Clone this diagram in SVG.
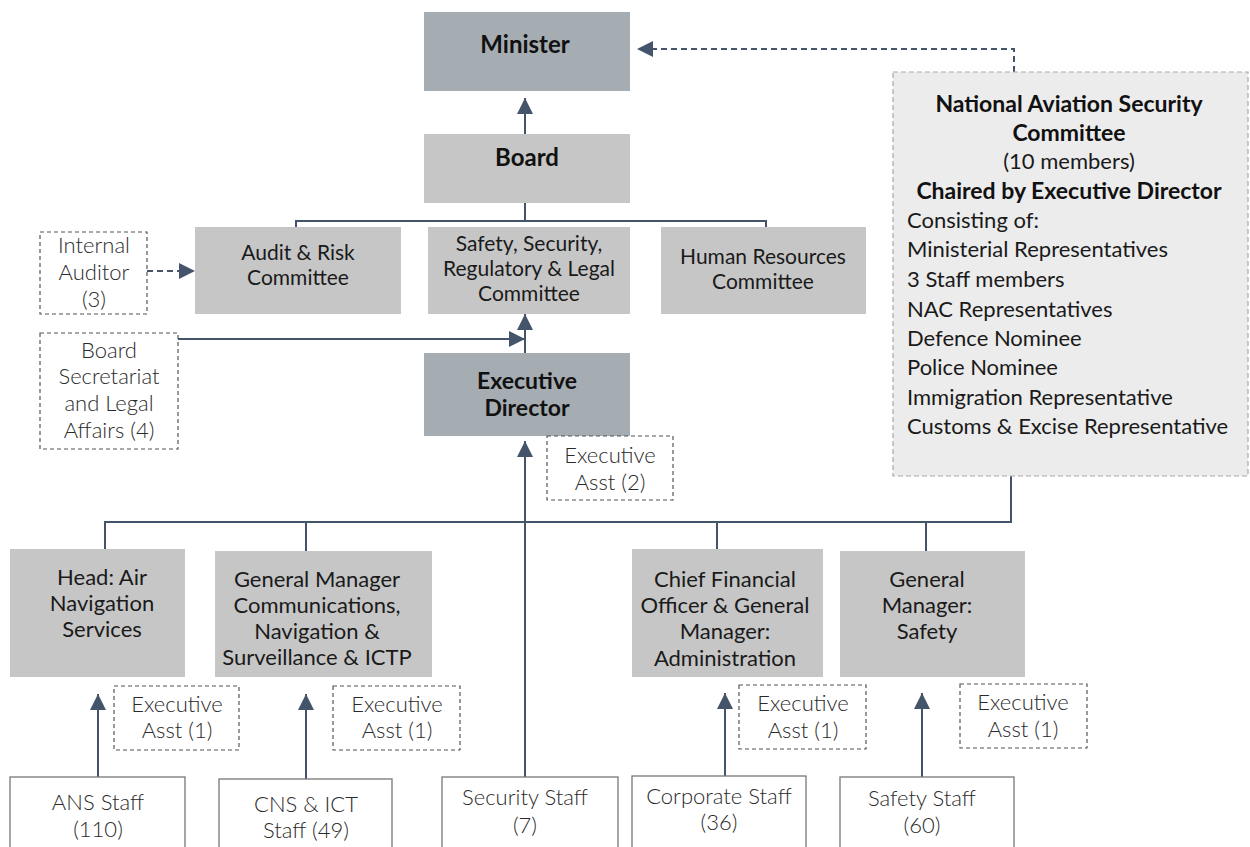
<svg xmlns="http://www.w3.org/2000/svg" width="1250" height="847" viewBox="0 0 1250 847">
  <style>
    .dark { fill: #a5acb2; }
    .mid { fill: #c6c6c6; }
    .dash { fill: #ffffff; stroke: #555; stroke-width: 1.2; stroke-dasharray: 4 3; }
    .staff { fill: #ffffff; stroke: #777; stroke-width: 1.3; }
    .nasc { fill: #ececec; stroke: #aaa; stroke-width: 1.2; stroke-dasharray: 5 3; }
    text { font-family: Lato, "Liberation Sans", sans-serif; font-size: 22px; text-anchor: middle; fill: #1a1a1a; }
    .b { font-weight: 700; fill: #111; font-size: 23px; }
    .big { font-size: 24px; }
    .cm { font-size: 21px; }
    .lt { font-weight: 300; fill: #2a2a2a; }
    .left { text-anchor: start; }
    .wire { fill: none; stroke: #44546a; stroke-width: 2; }
    .wire-d { fill: none; stroke: #44546a; stroke-width: 2; stroke-dasharray: 6 4; }
  </style>
  <defs>
    <marker id="arrow" viewBox="0 0 16 16" refX="16" refY="8" markerWidth="16" markerHeight="16" markerUnits="userSpaceOnUse" orient="auto">
      <path d="M0,0 L16,8 L0,16 Z" fill="#44546a"/>
    </marker>
  </defs>

  <rect width="1250" height="847" fill="#ffffff"/>

  <!-- connectors -->
  <g id="connectors">
    <line class="wire" x1="525" y1="134" x2="525" y2="98" marker-end="url(#arrow)"/>
    <path class="wire" d="M525,203 V221 M296,221 H766 M296,220 V228 M766,220 V228"/>
    <line class="wire-d" x1="147" y1="271" x2="195" y2="271" marker-end="url(#arrow)"/>
    <line class="wire" x1="178" y1="339" x2="525" y2="339" marker-end="url(#arrow)"/>
    <line class="wire" x1="525" y1="353" x2="525" y2="314" marker-end="url(#arrow)"/>
    <line class="wire" x1="525" y1="777" x2="525" y2="441" marker-end="url(#arrow)"/>
    <path class="wire-d" d="M1014,72 V49 H637" marker-end="url(#arrow)"/>
    <path class="wire" d="M1011,476 V522 H105 V549 M306,522 V551 M717,522 V549 M926,522 V551"/>
    <line class="wire" x1="98" y1="777" x2="98" y2="694" marker-end="url(#arrow)"/>
    <line class="wire" x1="306" y1="779" x2="306" y2="694" marker-end="url(#arrow)"/>
    <line class="wire" x1="725" y1="776" x2="725" y2="693" marker-end="url(#arrow)"/>
    <line class="wire" x1="922" y1="777" x2="922" y2="693" marker-end="url(#arrow)"/>
  </g>

  <!-- top level -->
  <g id="minister">
    <rect class="dark" x="424" y="12" width="206" height="79"/>
    <text class="b big" x="525" y="53">Minister</text>
  </g>
  <g id="board">
    <rect class="mid" x="424" y="134" width="206" height="69"/>
    <text class="b big" x="527" y="166">Board</text>
  </g>

  <!-- board committees -->
  <g id="audit-risk">
    <rect class="mid" x="195" y="227" width="206" height="87"/>
    <text class="cm" x="298" y="260">Audit &amp; Risk</text>
    <text class="cm" x="298" y="285">Committee</text>
  </g>
  <g id="ssrl">
    <rect class="mid" x="428" y="227" width="202" height="87"/>
    <text class="cm" x="529" y="251">Safety, Security,</text>
    <text class="cm" x="529" y="276">Regulatory &amp; Legal</text>
    <text class="cm" x="529" y="301">Committee</text>
  </g>
  <g id="hr">
    <rect class="mid" x="661" y="227" width="205" height="87"/>
    <text class="cm" x="763" y="264">Human Resources</text>
    <text class="cm" x="763" y="289">Committee</text>
  </g>
  <g id="internal-auditor">
    <rect class="dash" x="40" y="232" width="107" height="82"/>
    <text class="lt" x="94" y="253">Internal</text>
    <text class="lt" x="94" y="280">Auditor</text>
    <text class="lt" x="94" y="307">(3)</text>
  </g>
  <g id="board-secretariat">
    <rect class="dash" x="40" y="333" width="138" height="116"/>
    <text class="lt" x="109" y="358">Board</text>
    <text class="lt" x="109" y="384">Secretariat</text>
    <text class="lt" x="109" y="411">and Legal</text>
    <text class="lt" x="109" y="438">Affairs (4)</text>
  </g>

  <!-- executive -->
  <g id="executive-director">
    <rect class="dark" x="424" y="353" width="206" height="83"/>
    <text class="b" x="527" y="389">Executive</text>
    <text class="b" x="527" y="416">Director</text>
  </g>
  <g id="exec-asst-ed">
    <rect class="dash" x="547" y="436" width="126" height="64"/>
    <text class="lt" x="610" y="463">Executive</text>
    <text class="lt" x="610" y="490">Asst (2)</text>
  </g>

  <!-- national aviation security committee -->
  <g id="nasc">
    <rect class="nasc" x="893" y="72" width="355" height="404"/>
    <text class="b" x="1069" y="112">National Aviation Security</text>
    <text class="b" x="1069" y="141">Committee</text>
    <text x="1069" y="169">(10 members)</text>
    <text class="b" x="1069" y="199">Chaired by Executive Director</text>
    <text class="left" x="907" y="228">Consisting of:</text>
    <text class="left" x="907" y="257">Ministerial Representatives</text>
    <text class="left" x="907" y="287">3 Staff members</text>
    <text class="left" x="907" y="317">NAC Representatives</text>
    <text class="left" x="907" y="346">Defence Nominee</text>
    <text class="left" x="907" y="375">Police Nominee</text>
    <text class="left" x="907" y="405">Immigration Representative</text>
    <text class="left" x="907" y="434">Customs &amp; Excise Representative</text>
  </g>

  <!-- divisions -->
  <g id="head-ans">
    <rect class="mid" x="10" y="549" width="175" height="128"/>
    <text x="102" y="585">Head: Air</text>
    <text x="102" y="611">Navigation</text>
    <text x="102" y="637">Services</text>
  </g>
  <g id="gm-cns">
    <rect class="mid" x="215" y="551" width="217" height="126"/>
    <text x="317" y="587">General Manager</text>
    <text x="317" y="613">Communications,</text>
    <text x="317" y="639">Navigation &amp;</text>
    <text x="317" y="665">Surveillance &amp; ICTP</text>
  </g>
  <g id="cfo">
    <rect class="mid" x="632" y="549" width="191" height="128"/>
    <text x="725" y="587">Chief Financial</text>
    <text x="725" y="613">Officer &amp; General</text>
    <text x="725" y="639">Manager:</text>
    <text x="725" y="666">Administration</text>
  </g>
  <g id="gm-safety">
    <rect class="mid" x="840" y="551" width="185" height="126"/>
    <text x="927" y="587">General</text>
    <text x="927" y="613">Manager:</text>
    <text x="927" y="639">Safety</text>
  </g>

  <!-- executive assistants -->
  <g id="exec-asst-ans">
    <rect class="dash" x="114" y="686" width="125" height="64"/>
    <text class="lt" x="177" y="712">Executive</text>
    <text class="lt" x="177" y="738">Asst (1)</text>
  </g>
  <g id="exec-asst-cns">
    <rect class="dash" x="333" y="686" width="127" height="64"/>
    <text class="lt" x="397" y="712">Executive</text>
    <text class="lt" x="397" y="738">Asst (1)</text>
  </g>
  <g id="exec-asst-cfo">
    <rect class="dash" x="739" y="685" width="127" height="64"/>
    <text class="lt" x="803" y="711">Executive</text>
    <text class="lt" x="803" y="738">Asst (1)</text>
  </g>
  <g id="exec-asst-safety">
    <rect class="dash" x="960" y="684" width="127" height="64"/>
    <text class="lt" x="1023" y="710">Executive</text>
    <text class="lt" x="1023" y="737">Asst (1)</text>
  </g>

  <!-- staff -->
  <g id="ans-staff">
    <rect class="staff" x="10" y="777" width="175" height="80"/>
    <text class="lt" x="98" y="810">ANS Staff</text>
    <text class="lt" x="98" y="837">(110)</text>
  </g>
  <g id="cns-staff">
    <rect class="staff" x="219" y="779" width="173" height="80"/>
    <text class="lt" x="306" y="812">CNS &amp; ICT</text>
    <text class="lt" x="306" y="838">Staff (49)</text>
  </g>
  <g id="security-staff">
    <rect class="staff" x="442" y="777" width="176" height="80"/>
    <text class="lt" x="525" y="805">Security Staff</text>
    <text class="lt" x="525" y="833">(7)</text>
  </g>
  <g id="corporate-staff">
    <rect class="staff" x="632" y="776" width="174" height="80"/>
    <text class="lt" x="719" y="804">Corporate Staff</text>
    <text class="lt" x="719" y="830">(36)</text>
  </g>
  <g id="safety-staff">
    <rect class="staff" x="840" y="777" width="174" height="80"/>
    <text class="lt" x="922" y="806">Safety Staff</text>
    <text class="lt" x="922" y="833">(60)</text>
  </g>
</svg>
